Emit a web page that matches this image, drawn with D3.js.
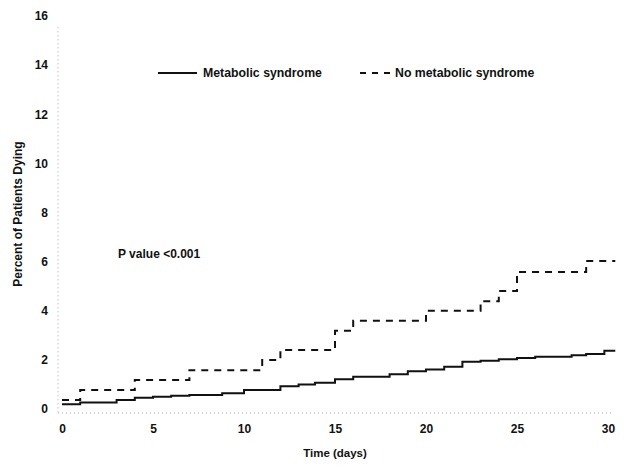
<!DOCTYPE html>
<html>
<head>
<meta charset="utf-8">
<script src="https://cdn.jsdelivr.net/npm/d3@7"></script>
<style>
  html, body { margin: 0; padding: 0; background: #fff; }
  svg { display: block; }
  text { font-family: "Liberation Sans", Arial, sans-serif; font-weight: bold; fill: #111; }
</style>
</head>
<body>
<svg id="chart" width="624" height="468"></svg>
<script>
// ---- data ----
const xTicks = [0, 5, 10, 15, 20, 25, 30];
const yTicks = [0, 2, 4, 6, 8, 10, 12, 14, 16];
const seriesNames = ["Metabolic syndrome", "No metabolic syndrome"];

const metDays   = [0, 1, 3, 4, 5, 6, 7, 8.8, 10, 12, 13, 13.9, 15, 16, 18, 19, 20, 21, 22, 23, 24, 25, 26, 28, 28.8, 29.8, 30.4];
const metValues = [0.15, 0.22, 0.33, 0.42, 0.46, 0.5, 0.53, 0.6, 0.73, 0.89, 0.96, 1.03, 1.17, 1.27, 1.37, 1.5, 1.57, 1.68, 1.88, 1.92, 1.98, 2.04, 2.09, 2.15, 2.2, 2.33, 2.33];

const noMetDays   = [0, 1, 4, 7, 11, 12, 15, 16, 20, 23, 24, 25, 28.8, 30.4];
const noMetValues = [0.33, 0.73, 1.14, 1.54, 1.95, 2.36, 3.14, 3.55, 3.96, 4.35, 4.76, 5.54, 5.98, 5.98];

const pValueText = "P value <0.001";
const xTitle = "Time (days)";
const yTitle = "Percent of Patients Dying";

// ---- drawing ----
const svg = d3.select("#chart");
const x = d3.scaleLinear().domain([0, 30]).range([62, 608]);
const y = d3.scaleLinear().domain([0, 16]).range([408, 15]);

// dotted faint axes
svg.append("line")
  .attr("x1", 58).attr("x2", 58).attr("y1", y(15.5)).attr("y2", 414)
  .attr("stroke", "#aaa").attr("stroke-width", 1).attr("stroke-dasharray", "1,3");
svg.append("line")
  .attr("x1", 58).attr("x2", 614).attr("y1", 413).attr("y2", 413)
  .attr("stroke", "#aaa").attr("stroke-width", 1).attr("stroke-dasharray", "1,3");

// y axis labels
const yAxis = d3.axisLeft(y).tickValues(yTicks).tickSize(0).tickPadding(0).tickFormat(d3.format("d"));
const gy = svg.append("g").attr("transform", "translate(48,1)").call(yAxis);
gy.select(".domain").remove();
gy.selectAll("text").style("font-size", "12px").style("font-weight", "bold")
  .style("font-family", '"Liberation Sans", Arial, sans-serif').attr("fill", "#111");

// x axis labels
const xAxis = d3.axisBottom(x).tickValues(xTicks).tickSize(0).tickPadding(0).tickFormat(d3.format("d"));
const gx = svg.append("g").attr("transform", "translate(0,424)").call(xAxis);
gx.select(".domain").remove();
gx.selectAll("text").style("font-size", "12px").style("font-weight", "bold")
  .style("font-family", '"Liberation Sans", Arial, sans-serif').attr("fill", "#111");

// axis titles
svg.append("text").attr("x", 335).attr("y", 457).attr("text-anchor", "middle")
  .style("font-size", "11.5px").text(xTitle);
svg.append("text").attr("transform", "translate(22,214) rotate(-90)").attr("text-anchor", "middle")
  .style("font-size", "12px").text(yTitle);

// step curves
const line = d3.line().x(d => x(d[0])).y(d => y(d[1])).curve(d3.curveStepAfter);
const metData = metDays.map((d, i) => [d, metValues[i]]);
const noMetData = noMetDays.map((d, i) => [d, noMetValues[i]]);

svg.append("path").datum(noMetData).attr("d", line)
  .attr("fill", "none").attr("stroke", "#111").attr("stroke-width", 2)
  .attr("stroke-dasharray", "7,6");
svg.append("path").datum(metData).attr("d", line)
  .attr("fill", "none").attr("stroke", "#111").attr("stroke-width", 2);

// legend
svg.append("line").attr("x1", 158).attr("x2", 197).attr("y1", 73).attr("y2", 73)
  .attr("stroke", "#111").attr("stroke-width", 2);
svg.append("text").attr("x", 203).attr("y", 77).style("font-size", "12.3px").text(seriesNames[0]);
svg.append("line").attr("x1", 360).attr("x2", 392).attr("y1", 73).attr("y2", 73)
  .attr("stroke", "#111").attr("stroke-width", 2).attr("stroke-dasharray", "6,6");
svg.append("text").attr("x", 395).attr("y", 77).style("font-size", "12.3px").text(seriesNames[1]);

// p value
svg.append("text").attr("x", 118).attr("y", 258).style("font-size", "12px").text(pValueText);
</script>
</body>
</html>
